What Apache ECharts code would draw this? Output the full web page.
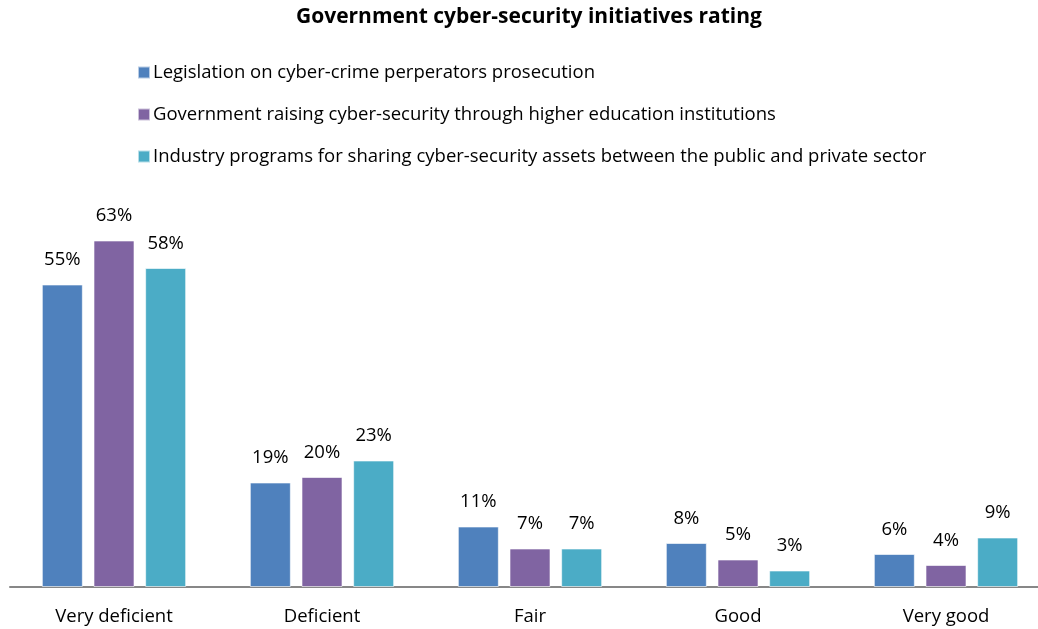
<!DOCTYPE html>
<html>
<head>
<meta charset="utf-8">
<script src="https://cdn.jsdelivr.net/npm/echarts@6/dist/echarts.min.js"></script>
<style>
  html, body { margin: 0; padding: 0; background: #ffffff; }
  #chart { width: 1038px; height: 629px; }
</style>
</head>
<body>
<div id="chart"></div>
<script>
// Rating categories along the x axis
const categories = ['Very deficient', 'Deficient', 'Fair', 'Good', 'Very good'];

// Share of respondents (%) per rating, one array per initiative
const seriesNames = [
  'Legislation on cyber-crime perperators prosecution',
  'Government raising cyber-security through higher education institutions',
  'Industry programs for sharing cyber-security assets between the public and private sector'
];
const legislation = [55, 19, 11, 8, 6];
const education = [63, 20, 7, 5, 4];
const industry = [58, 23, 7, 3, 9];

const colors = ['#4F81BD', '#8064A2', '#4BACC6'];
const FONT = 'Open Sans';
const TEXT_SIZE = 18.5;

const chart = echarts.init(document.getElementById('chart'), null, { renderer: 'canvas' });

const values = [legislation, education, industry];
const series = values.map((data, i) => ({
  name: seriesNames[i],
  type: 'bar',
  data: data,
  barWidth: 41,
  barGap: '26%',
  itemStyle: { color: colors[i], borderColor: 'rgba(255,255,255,0.6)', borderWidth: 1 },
  label: {
    show: true,
    position: 'top',
    distance: 15,
    formatter: p => p.value + '%',
    fontFamily: FONT,
    fontSize: TEXT_SIZE,
    color: '#000000'
  },
  emphasis: { disabled: true }
}));

chart.setOption({
  animation: false,
  textStyle: { fontFamily: FONT },
  title: {
    text: 'Government cyber-security initiatives rating',
    left: 291,
    top: 2,
    textStyle: { fontFamily: FONT, fontSize: 21, fontWeight: 'bold', color: '#000000' }
  },
  legend: {
    orient: 'vertical',
    left: 132,
    top: 58,
    itemGap: 23,
    itemWidth: 12,
    itemHeight: 12,
    icon: 'rect',
    textStyle: { fontFamily: FONT, fontSize: TEXT_SIZE, color: '#000000', padding: [0, 0, 0, -2] },
    data: seriesNames
  },
  // plot area runs a little past the right edge of the canvas
  grid: { left: 10, width: 1040, top: 202, bottom: 42, containLabel: false, outerBoundsMode: 'none' },
  xAxis: {
    type: 'category',
    data: categories,
    axisLine: { show: true, lineStyle: { color: '#878787', width: 2 } },
    axisTick: { show: false },
    axisLabel: { fontFamily: FONT, fontSize: TEXT_SIZE, color: '#000000', margin: 20 }
  },
  yAxis: {
    type: 'value',
    min: 0,
    max: 70,
    show: false,
    splitLine: { show: false }
  },
  series: series
});
</script>
</body>
</html>
